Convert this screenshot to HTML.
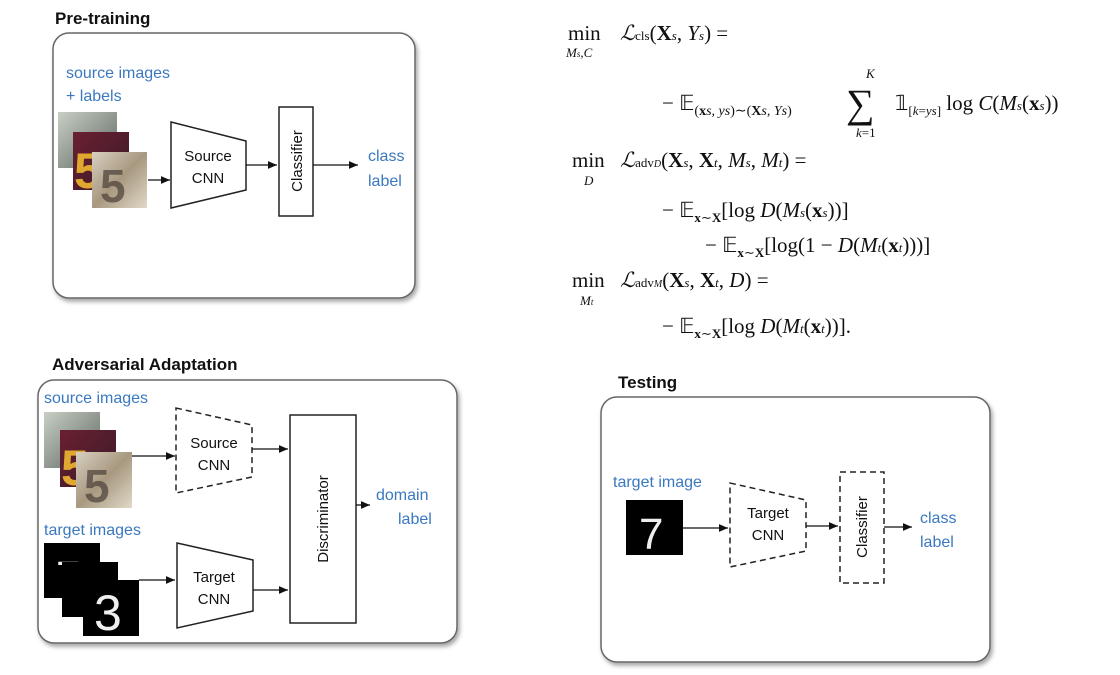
<!DOCTYPE html>
<html><head><meta charset="utf-8"><style>
html,body{margin:0;padding:0;background:#fff;width:1120px;height:675px;overflow:hidden}
svg{display:block}
.t{font-family:"Liberation Sans",sans-serif}
.b{fill:#3a78c0;font-size:16px}
.k{fill:#111;font-size:15px}
.m{font-family:"Liberation Serif",serif;fill:#111;font-size:21px}
.s{font-size:13px}
</style></head><body>
<svg width="1120" height="675" viewBox="0 0 1120 675" xmlns="http://www.w3.org/2000/svg">
<defs>
<marker id="a" markerWidth="8" markerHeight="8" refX="7" refY="4" orient="auto"><path d="M0,1 L7,4 L0,7 z" fill="#111"/></marker>
<filter id="sh" x="-5%" y="-5%" width="110%" height="110%"><feDropShadow dx="2" dy="3" stdDeviation="2" flood-color="#000" flood-opacity="0.35"/></filter>
<linearGradient id="g1" x1="0" y1="0" x2="1" y2="1"><stop offset="0" stop-color="#c9cfc4"/><stop offset="1" stop-color="#5a6560"/></linearGradient>
<linearGradient id="g2" x1="0" y1="0" x2="1" y2="1"><stop offset="0" stop-color="#6a2030"/><stop offset="1" stop-color="#3a1a2a"/></linearGradient>
<linearGradient id="g3" x1="0" y1="0" x2="1" y2="1"><stop offset="0" stop-color="#d8d0c0"/><stop offset="0.5" stop-color="#a89880"/><stop offset="1" stop-color="#e0dac8"/></linearGradient>
</defs>

<!-- Pre-training -->
<text x="55" y="24" class="t" style="font-size:17px;font-weight:bold;fill:#111">Pre-training</text>
<rect x="53" y="33" width="362" height="265" rx="16" fill="#fff" stroke="#666" stroke-width="1.5" filter="url(#sh)"/>
<text x="66" y="78" class="t b">source images</text>
<text x="66" y="101" class="t b">+ labels</text>
<rect x="58" y="112" width="59" height="56" fill="url(#g1)"/>
<rect x="73" y="132" width="56" height="58" fill="url(#g2)"/>
<text x="74" y="188" class="t" style="font-size:50px;font-weight:bold;fill:#e0a830">5</text>
<rect x="92" y="152" width="55" height="56" fill="url(#g3)"/>
<text x="100" y="202" class="t" style="font-size:46px;font-weight:bold;fill:#4a4038;opacity:.7">5</text>
<line x1="148" y1="180" x2="170" y2="180" stroke="#111" stroke-width="1.3" marker-end="url(#a)"/>
<polygon points="171,122 246,141 246,190 171,208" fill="#fff" stroke="#222" stroke-width="1.5"/>
<text x="208" y="161" text-anchor="middle" class="t k">Source</text>
<text x="208" y="183" text-anchor="middle" class="t k">CNN</text>
<line x1="246" y1="165" x2="277" y2="165" stroke="#111" stroke-width="1.3" marker-end="url(#a)"/>
<rect x="279" y="107" width="34" height="109" fill="#fff" stroke="#222" stroke-width="1.5"/>
<text transform="translate(302,161) rotate(-90)" text-anchor="middle" class="t k">Classifier</text>
<line x1="313" y1="165" x2="358" y2="165" stroke="#111" stroke-width="1.3" marker-end="url(#a)"/>
<text x="368" y="161" class="t b">class</text>
<text x="368" y="186" class="t b">label</text>

<!-- Adversarial -->
<text x="52" y="370" class="t" style="font-size:17px;font-weight:bold;fill:#111">Adversarial Adaptation</text>
<rect x="38" y="380" width="419" height="263" rx="16" fill="#fff" stroke="#666" stroke-width="1.5" filter="url(#sh)"/>
<text x="44" y="403" class="t b">source images</text>
<rect x="44" y="412" width="56" height="56" fill="url(#g1)"/>
<rect x="60" y="430" width="56" height="57" fill="url(#g2)"/>
<text x="61" y="485" class="t" style="font-size:50px;font-weight:bold;fill:#e0a830">5</text>
<rect x="76" y="452" width="56" height="56" fill="url(#g3)"/>
<text x="84" y="502" class="t" style="font-size:46px;font-weight:bold;fill:#4a4038;opacity:.7">5</text>
<line x1="132" y1="456" x2="175" y2="456" stroke="#111" stroke-width="1.3" marker-end="url(#a)"/>
<polygon points="176,408 252,425 252,477 176,493" fill="#fff" stroke="#222" stroke-width="1.5" stroke-dasharray="6,4"/>
<text x="214" y="448" text-anchor="middle" class="t k">Source</text>
<text x="214" y="470" text-anchor="middle" class="t k">CNN</text>
<line x1="252" y1="449" x2="288" y2="449" stroke="#111" stroke-width="1.3" marker-end="url(#a)"/>
<rect x="290" y="415" width="66" height="208" fill="#fff" stroke="#222" stroke-width="1.5"/>
<text transform="translate(328,519) rotate(-90)" text-anchor="middle" class="t k">Discriminator</text>
<line x1="356" y1="505" x2="370" y2="505" stroke="#111" stroke-width="1.3" marker-end="url(#a)"/>
<text x="376" y="500" class="t b">domain</text>
<text x="398" y="524" class="t b">label</text>
<text x="44" y="535" class="t b">target images</text>
<rect x="44" y="543" width="56" height="55" fill="#000"/>
<text x="56" y="592" class="t" style="font-size:44px;fill:#eee">7</text>
<rect x="62" y="562" width="56" height="55" fill="#000"/>
<rect x="83" y="580" width="56" height="56" fill="#000"/>
<text x="94" y="630" class="t" style="font-size:50px;fill:#eee">3</text>
<line x1="139" y1="580" x2="175" y2="580" stroke="#111" stroke-width="1.3" marker-end="url(#a)"/>
<polygon points="177,543 253,560 253,611 177,628" fill="#fff" stroke="#222" stroke-width="1.5"/>
<text x="214" y="582" text-anchor="middle" class="t k">Target</text>
<text x="214" y="604" text-anchor="middle" class="t k">CNN</text>
<line x1="253" y1="590" x2="288" y2="590" stroke="#111" stroke-width="1.3" marker-end="url(#a)"/>

<!-- Testing -->
<text x="618" y="388" class="t" style="font-size:17px;font-weight:bold;fill:#111">Testing</text>
<rect x="601" y="397" width="389" height="265" rx="16" fill="#fff" stroke="#666" stroke-width="1.5" filter="url(#sh)"/>
<text x="613" y="487" class="t b">target image</text>
<rect x="626" y="500" width="57" height="55" fill="#000"/>
<text x="639" y="549" class="t" style="font-size:44px;fill:#eee">7</text>
<line x1="683" y1="528" x2="728" y2="528" stroke="#111" stroke-width="1.3" marker-end="url(#a)"/>
<polygon points="730,483 806,500 806,551 730,567" fill="#fff" stroke="#222" stroke-width="1.5" stroke-dasharray="6,4"/>
<text x="768" y="518" text-anchor="middle" class="t k">Target</text>
<text x="768" y="540" text-anchor="middle" class="t k">CNN</text>
<line x1="806" y1="526" x2="838" y2="526" stroke="#111" stroke-width="1.3" marker-end="url(#a)"/>
<rect x="840" y="472" width="44" height="111" fill="#fff" stroke="#222" stroke-width="1.5" stroke-dasharray="6,4"/>
<text transform="translate(867,527) rotate(-90)" text-anchor="middle" class="t k">Classifier</text>
<line x1="884" y1="527" x2="912" y2="527" stroke="#111" stroke-width="1.3" marker-end="url(#a)"/>
<text x="920" y="523" class="t b">class</text>
<text x="920" y="547" class="t b">label</text>

<!-- Equations -->
<g class="m">
<text x="568" y="40">min</text>
<text x="566" y="57" class="s" font-style="italic">M<tspan font-size="9">s</tspan>,C</text>
<text x="620" y="40"><tspan font-style="italic">ℒ</tspan><tspan font-size="13">cls</tspan>(<tspan font-weight="bold">X</tspan><tspan font-size="13" font-style="italic">s</tspan>, <tspan font-style="italic">Y</tspan><tspan font-size="13" font-style="italic">s</tspan>) =</text>

<text x="662" y="110">− 𝔼<tspan font-size="14" dy="5">(<tspan font-weight="bold">x</tspan><tspan font-style="italic">s</tspan>, <tspan font-style="italic">y</tspan><tspan font-style="italic">s</tspan>)∼(<tspan font-weight="bold">X</tspan><tspan font-style="italic">s</tspan>, <tspan font-style="italic">Y</tspan><tspan font-style="italic">s</tspan>)</tspan></text>
<text x="846" y="117" style="font-size:40px">∑</text>
<text x="866" y="78" class="s" font-style="italic">K</text>
<text x="856" y="137" class="s"><tspan font-style="italic">k</tspan>=1</text>
<text x="895" y="110">𝟙<tspan font-size="13" dy="5">[<tspan font-style="italic">k</tspan>=<tspan font-style="italic">y</tspan><tspan font-style="italic">s</tspan>]</tspan><tspan dy="-5"> log <tspan font-style="italic">C</tspan>(<tspan font-style="italic">M</tspan><tspan font-size="13" font-style="italic">s</tspan>(<tspan font-weight="bold">x</tspan><tspan font-size="13" font-style="italic">s</tspan>))</tspan></text>

<text x="572" y="167">min</text>
<text x="584" y="185" class="s" font-style="italic">D</text>
<text x="620" y="167"><tspan font-style="italic">ℒ</tspan><tspan font-size="13">adv</tspan><tspan font-size="10" font-style="italic">D</tspan>(<tspan font-weight="bold">X</tspan><tspan font-size="13" font-style="italic">s</tspan>, <tspan font-weight="bold">X</tspan><tspan font-size="13" font-style="italic">t</tspan>, <tspan font-style="italic">M</tspan><tspan font-size="13" font-style="italic">s</tspan>, <tspan font-style="italic">M</tspan><tspan font-size="13" font-style="italic">t</tspan>) =</text>

<text x="662" y="217">− 𝔼<tspan font-size="13" dy="5"><tspan font-weight="bold">x</tspan>∼<tspan font-weight="bold">X</tspan></tspan><tspan dy="-5">[log <tspan font-style="italic">D</tspan>(<tspan font-style="italic">M</tspan><tspan font-size="13" font-style="italic">s</tspan>(<tspan font-weight="bold">x</tspan><tspan font-size="13" font-style="italic">s</tspan>))]</tspan></text>
<text x="705" y="252">− 𝔼<tspan font-size="13" dy="5"><tspan font-weight="bold">x</tspan>∼<tspan font-weight="bold">X</tspan></tspan><tspan dy="-5">[log(1 − <tspan font-style="italic">D</tspan>(<tspan font-style="italic">M</tspan><tspan font-size="13" font-style="italic">t</tspan>(<tspan font-weight="bold">x</tspan><tspan font-size="13" font-style="italic">t</tspan>)))]</tspan></text>

<text x="572" y="287">min</text>
<text x="580" y="305" class="s" font-style="italic">M<tspan font-size="9">t</tspan></text>
<text x="620" y="287"><tspan font-style="italic">ℒ</tspan><tspan font-size="13">adv</tspan><tspan font-size="10" font-style="italic">M</tspan>(<tspan font-weight="bold">X</tspan><tspan font-size="13" font-style="italic">s</tspan>, <tspan font-weight="bold">X</tspan><tspan font-size="13" font-style="italic">t</tspan>, <tspan font-style="italic">D</tspan>) =</text>

<text x="662" y="333">− 𝔼<tspan font-size="13" dy="5"><tspan font-weight="bold">x</tspan>∼<tspan font-weight="bold">X</tspan></tspan><tspan dy="-5">[log <tspan font-style="italic">D</tspan>(<tspan font-style="italic">M</tspan><tspan font-size="13" font-style="italic">t</tspan>(<tspan font-weight="bold">x</tspan><tspan font-size="13" font-style="italic">t</tspan>))].</tspan></text>
</g>
</svg>
</body></html>
